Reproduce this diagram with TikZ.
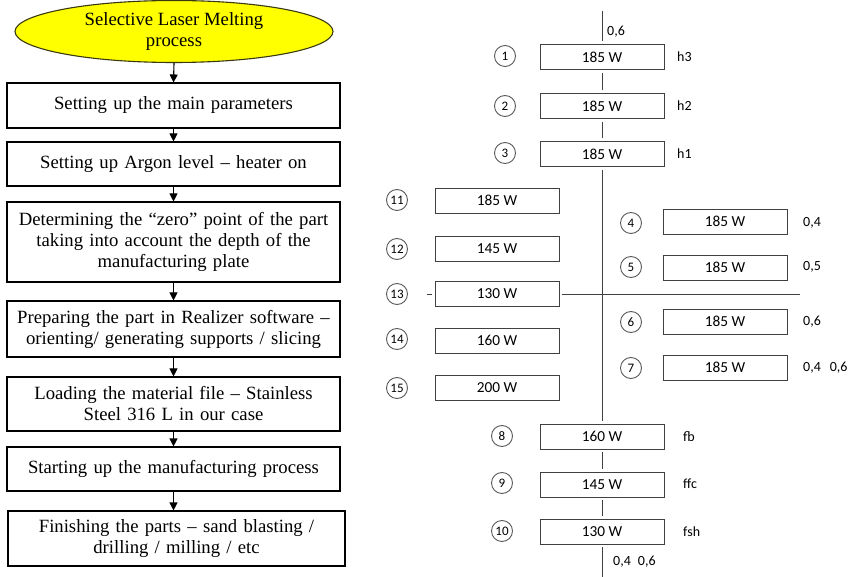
\documentclass[tikz,border=0pt]{standalone}
\usepackage{fontspec}
\setmainfont{Liberation Serif}
\newfontfamily\calfont{Carlito}
\usetikzlibrary{shapes.geometric,arrows.meta}
\definecolor{ellfill}{HTML}{FFFF00}
\definecolor{ellline}{HTML}{3A3A10}
\definecolor{rline}{HTML}{404040}
\tikzset{
  flowbox/.style={draw=black,line width=1.1pt,rectangle,minimum width=333pt,inner sep=0pt,align=center,text width=330pt,font=\fontsize{18.7}{21}\selectfont},
  flowarrow/.style={line width=1.1pt,-{Triangle[width=8pt,length=8pt]}},
  wbox/.style={draw=rline,line width=0.9pt,rectangle,minimum width=124pt,minimum height=25pt,inner sep=0pt,font=\calfont\fontsize{15.3}{17}\selectfont},
  numc/.style={draw=gray!70!black,line width=0.9pt,circle,minimum size=21pt,inner sep=0pt,font=\calfont\fontsize{13}{14}\selectfont},
  lbl/.style={anchor=west,inner sep=0pt,font=\calfont\fontsize{14}{16}\selectfont},
  rl/.style={draw=rline,line width=0.9pt}
}
\begin{document}
\begin{tikzpicture}[x=1pt,y=-1pt]
\useasboundingbox (0,0) rectangle (849,577);
% left flowchart
\node[ellipse,draw=ellline,line width=1.1pt,fill=ellfill,minimum width=318pt,minimum height=62pt,inner sep=0pt,align=center,font=\fontsize{18.7}{21}\selectfont] (e) at (174,31.5) {Selective Laser Melting\\process};
\node[flowbox,minimum height=45pt] (b1) at (173.5,105.5) {Setting up the main parameters};
\node[flowbox,minimum height=44pt] (b2) at (173.5,164) {Setting up Argon level -- heater on};
\node[flowbox,minimum height=80pt] (b3) at (173.5,242) {Determining the ``zero'' point of the part\\taking into account the depth of the\\manufacturing plate};
\node[flowbox,minimum height=56pt] (b4) at (173.5,329) {Preparing the part in Realizer software --\\orienting/ generating supports / slicing};
\node[flowbox,minimum height=54pt] (b5) at (173.5,404) {Loading the material file -- Stainless\\Steel 316 L in our case};
\node[flowbox,minimum height=44pt] (b6) at (173.5,469) {Starting up the manufacturing process};
\node[flowbox,minimum width=337pt,minimum height=55pt] (b7) at (176.5,538.5) {Finishing the parts -- sand blasting /\\drilling / milling / etc};
\draw[flowarrow] (e.south) -- (b1.north);
\draw[flowarrow] (b1.south) -- (b2.north);
\draw[flowarrow] (b2.south) -- (b3.north);
\draw[flowarrow] (b3.south) -- (b4.north);
\draw[flowarrow] (b4.south) -- (b5.north);
\draw[flowarrow] (b5.south) -- (b6.north);
\draw[flowarrow] (b6.south) -- ([xshift=-3pt]b7.north);
% right diagram: main column
\node[wbox] (r1) at (602,57) {185 W};
\node[wbox] (r2) at (602,106) {185 W};
\node[wbox] (r3) at (602,154) {185 W};
\node[wbox] (r8) at (602,436.5) {160 W};
\node[wbox] (r9) at (602,484.5) {145 W};
\node[wbox] (r10) at (602,531.5) {130 W};
% left column
\node[wbox] (l11) at (497,200.5) {185 W};
\node[wbox] (l12) at (497,248.5) {145 W};
\node[wbox] (l13) at (497,294) {130 W};
\node[wbox] (l14) at (497,340.5) {160 W};
\node[wbox] (l15) at (497,388) {200 W};
% right column
\node[wbox] (q4) at (725,221.5) {185 W};
\node[wbox] (q5) at (725,267.5) {185 W};
\node[wbox] (q6) at (725,321.5) {185 W};
\node[wbox] (q7) at (725,367.5) {185 W};
% circled numbers
\node[numc] (c1) at (505,56) {1};
\node[numc] (c2) at (505,106) {2};
\node[numc] (c3) at (505,153) {3};
\node[numc] (c4) at (631,223) {4};
\node[numc] (c5) at (631,267) {5};
\node[numc] (c6) at (631,322) {6};
\node[numc] (c7) at (631,368) {7};
\node[numc] (c8) at (502,436) {8};
\node[numc] (c9) at (502,483) {9};
\node[numc] (c10) at (502,531) {10};
\node[numc] (c11) at (397,200) {11};
\node[numc] (c12) at (397,249) {12};
\node[numc] (c13) at (397,294) {13};
\node[numc] (c14) at (397,339) {14};
\node[numc] (c15) at (397,388) {15};
% labels
\node[lbl] (t06) at (607,32) {0,6};
\node[lbl] (th3) at (677,57) {h3};
\node[lbl] (th2) at (677,106) {h2};
\node[lbl] (th1) at (677,154) {h1};
\node[lbl] (t4) at (803,223) {0,4};
\node[lbl] (t5) at (803,267) {0,5};
\node[lbl] (t6) at (803,322) {0,6};
\node[lbl] (t7) at (803,368) {0,4\hspace{9pt}0,6};
\node[lbl] (tfb) at (683,437) {fb};
\node[lbl] (tffc) at (683,484) {ffc};
\node[lbl] (tfsh) at (683,532) {fsh};
\node[lbl] (tbot) at (613,562) {0,4\hspace{7pt}0,6};
% lines
\coordinate (top) at (602,11);
\coordinate (bot) at (602,577);
\coordinate (hend) at (800,294);
\draw[rl,shorten >=3pt] (top) -- (r1.north);
\draw[rl,shorten <=3pt,shorten >=3pt] (r1.south) -- (r2.north);
\draw[rl,shorten <=3pt,shorten >=3pt] (r2.south) -- (r3.north);
\draw[rl,shorten <=3pt,shorten >=3pt] (r3.south) -- (r8.north);
\draw[rl,shorten <=3pt,shorten >=3pt] (r8.south) -- (r9.north);
\draw[rl,shorten <=3pt,shorten >=3pt] (r9.south) -- (r10.north);
\draw[rl,shorten <=3pt] (r10.south) -- (bot);
\draw[rl,shorten <=3pt] (l13.east) -- (hend);
\draw[rl] ([xshift=-8pt]l13.west) -- ([xshift=-3pt]l13.west);
\end{tikzpicture}
\end{document}
